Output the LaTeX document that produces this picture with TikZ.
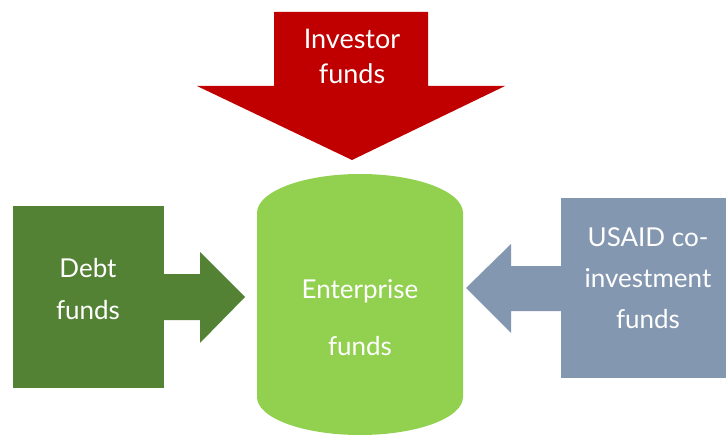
\documentclass[tikz,border=0pt]{standalone}
\usepackage{fontspec}
\setmainfont{Lato}
\definecolor{investred}{HTML}{C00000}
\definecolor{debtgreen}{HTML}{548235}
\definecolor{entgreen}{HTML}{92D050}
\definecolor{usaidblue}{HTML}{8497B0}
\begin{document}
\begin{tikzpicture}[x=1pt,y=-1pt,
  lbl/.style={text=white,align=center,font=\fontsize{26}{#1}\selectfont,inner sep=0pt},
  lbl/.default=41,
  blockbox/.style={draw=none,inner sep=0pt,anchor=north west}]
\useasboundingbox (0,0) rectangle (726,436);
\fill[white] (0,0) rectangle (726,436);

% investor arrow pointing down onto the cylinder
\fill[investred] (274,12) -- (428,12) -- (428,86) -- (505,86) -- (352,160)
  -- (197,86) -- (274,86) -- cycle;
\node[lbl=35,font=\fontsize{27}{35}\selectfont] (inv) at (352,56) {Investor\\funds};

% enterprise cylinder
\fill[entgreen] (257,213) arc[start angle=180,end angle=360,x radius=103,y radius=39]
  -- (463,397) arc[start angle=0,end angle=180,x radius=103,y radius=38] -- cycle;
\node[lbl=57] (ent) at (360,318) {Enterprise\\funds};

% debt funds box with its arrow
\node[blockbox,fill=debtgreen,minimum width=151pt,minimum height=182pt] (debt) at (13,206) {};
\fill[debtgreen] (160,274) -- (200,274) -- (200,252) -- (245,297) -- (200,343)
  -- (200,320) -- (160,320) -- cycle;
\node[lbl=42] (debtlbl) at (88,289) {Debt\\funds};

% USAID co-investment box with its arrow
\node[blockbox,fill=usaidblue,minimum width=166pt,minimum height=180pt] (usaid) at (561,198) {};
\fill[usaidblue] (565,266) -- (511,266) -- (511,244) -- (466,288) -- (511,333)
  -- (511,311) -- (565,311) -- cycle;
\node[lbl=41] (usaidlbl) at (648,278) {USAID co-\\investment\\funds};
\end{tikzpicture}
\end{document}
